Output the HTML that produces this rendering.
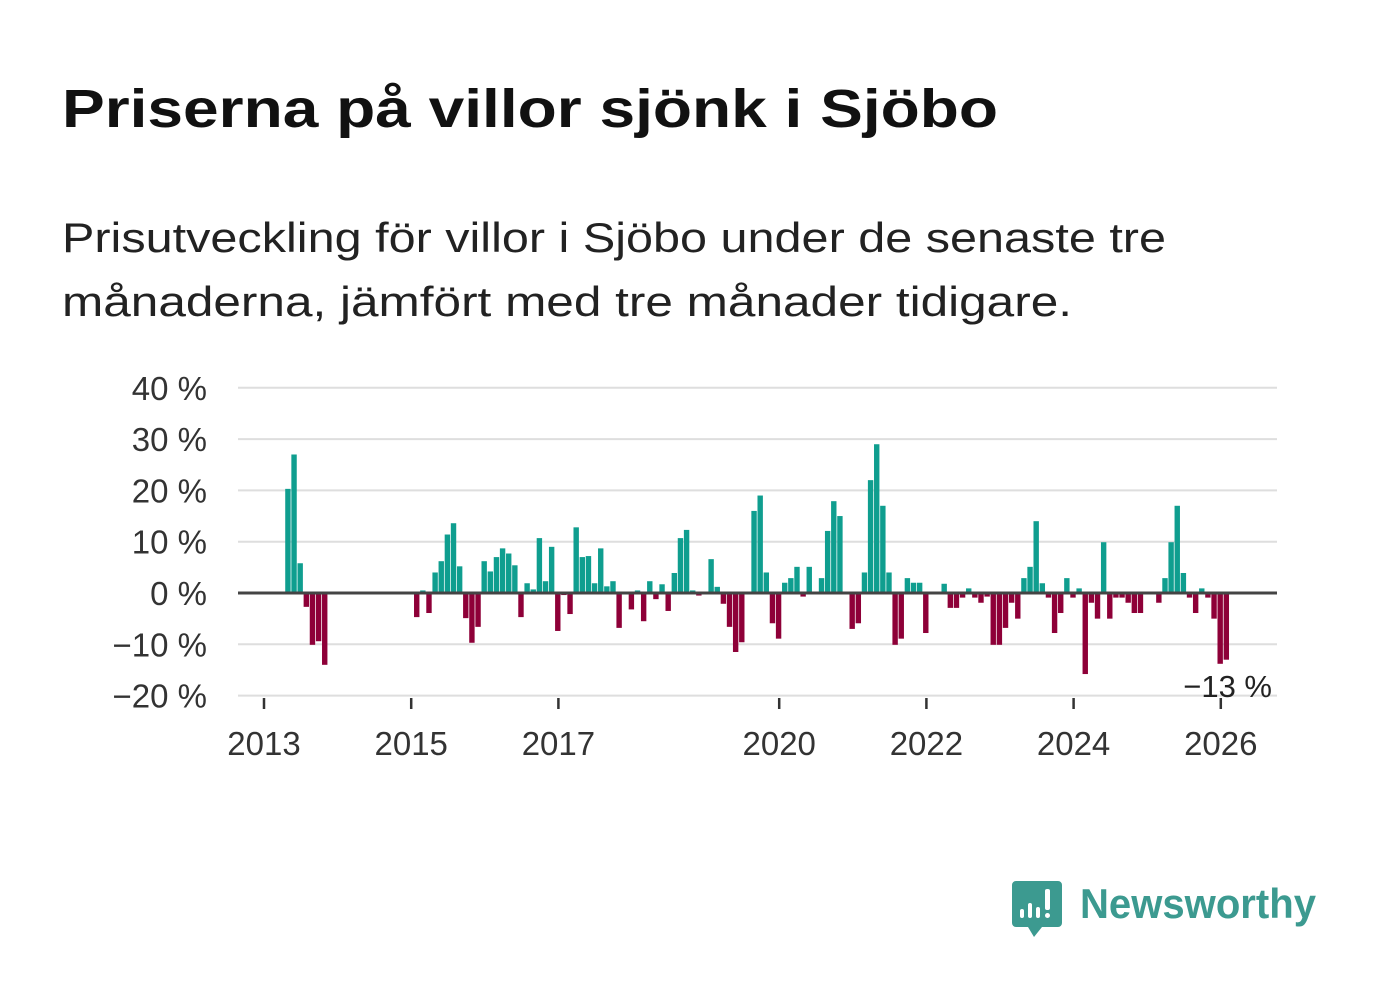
<!DOCTYPE html>
<html><head><meta charset="utf-8"><style>
html,body{margin:0;padding:0;background:#fff;}
svg{display:block;font-family:"Liberation Sans","DejaVu Sans",sans-serif;}
</style></head><body>
<svg id="chart" width="1382" height="999" viewBox="0 0 1382 999">
<text x="62" y="127" font-size="54" font-weight="bold" fill="#111" textLength="936" lengthAdjust="spacingAndGlyphs">Priserna på villor sjönk i Sjöbo</text>
<text x="62" y="252" font-size="42" fill="#222" textLength="1104" lengthAdjust="spacingAndGlyphs">Prisutveckling för villor i Sjöbo under de senaste tre</text>
<text x="62" y="316" font-size="42" fill="#222" textLength="1010" lengthAdjust="spacingAndGlyphs">månaderna, jämfört med tre månader tidigare.</text>
<g id="grid"></g>
<g id="bars"></g>
<g id="axes"></g>
<g>
<path d="M1016 881 h42 a4 4 0 0 1 4 4 v38 a4 4 0 0 1 -4 4 h-16 l-8 10 l-6 -10 h-12 a4 4 0 0 1 -4 -4 v-38 a4 4 0 0 1 4 -4z" fill="#3c9a90"/>
<rect x="1020" y="909" width="4" height="9" rx="2" fill="#fff"/>
<rect x="1028" y="903" width="4" height="15" rx="2" fill="#fff"/>
<rect x="1036" y="907" width="4" height="11" rx="2" fill="#fff"/>
<rect x="1045" y="889" width="5" height="21" rx="2" fill="#fff"/>
<circle cx="1047.5" cy="915.5" r="2.5" fill="#fff"/>
<text x="1080" y="918" font-size="42" font-weight="bold" fill="#3c9a90" textLength="236" lengthAdjust="spacingAndGlyphs">Newsworthy</text>
</g>
</svg>
<script>
const startYear = 2013;
const startMonthOffset = 3.9;
const values = [20.3,27,5.8,-2.7,-10.1,-9.4,-14,null,null,null,null,null,null,null,null,null,null,null,null,null,null,
-4.7,0.5,-3.9,4,6.2,11.4,13.6,5.2,-4.9,-9.7,-6.6,6.2,4.2,7,8.7,7.7,5.4,-4.7,1.9,0.7,10.7,2.3,9,-7.4,-0.4,-4.1,12.8,7,7.2,1.9,8.7,1.3,2.3,-6.8,null,
-3.2,0.5,-5.5,2.3,-1.2,1.7,-3.5,3.9,10.7,12.3,0.5,-0.5,null,6.6,1.2,-2.1,-6.6,-11.5,-9.6,null,16,19,4,-5.9,-8.9,2,2.9,5.1,-0.7,5.1,null,
2.9,12.1,17.9,15,null,-7,-5.9,4,22,29,17,4,-10.1,-8.9,2.9,2,2,-7.8,null,null,1.8,-2.9,-2.9,-0.9,0.9,-0.9,-1.9,-0.7,-10.1,-10.1,-6.8,-1.9,-5,
2.9,5.1,14,1.9,-0.9,-7.8,-3.9,2.9,-0.9,0.9,-15.8,-1.9,-5,9.9,-5,-0.9,-0.9,-1.9,-3.9,-3.9,null,null,-1.9,2.9,9.9,17,3.9,-0.9,-3.9,0.9,-0.9,-5,-13.8,-13];
const yTicks = [40,30,20,10,0,-10,-20];
const yTickLabels = ["40 %","30 %","20 %","10 %","0 %","−10 %","−20 %"];
const xTicks = [2013,2015,2017,2020,2022,2024,2026];
const lastLabel = "−13 %";

const NS="http://www.w3.org/2000/svg";
const xScale = y => 264 + (y-2013)*73.6;
const yScale = v => 593 - v*5.13;
function mk(tag, attrs, parent){const e=document.createElementNS(NS,tag);for(const k in attrs)e.setAttribute(k,attrs[k]);parent.appendChild(e);return e;}
const grid=document.getElementById('grid'), bars=document.getElementById('bars'), axes=document.getElementById('axes');
yTicks.forEach((t,i)=>{
  if(t!==0){const l=mk('line',{x1:238,x2:1277,y1:yScale(t),y2:yScale(t),stroke:'#dedede','stroke-width':2},grid);
  
  }
  const tx=mk('text',{x:207,y:yScale(t)+12,'font-size':33,fill:'#333','text-anchor':'end'},axes);
  tx.textContent=yTickLabels[i];
  
  
});
values.forEach((v,i)=>{
  if(v===null)return;
  const xc=xScale(startYear+(startMonthOffset+i)/12);
  const y0=yScale(0), y1=yScale(v);
  const r=mk('rect',{x:xc-2.7,width:5.4,y:Math.min(y0,y1),height:Math.abs(y1-y0),fill:v>=0?'#0f9e8f':'#8e0038'},bars);
  
  
});
const zl=mk('line',{x1:238,x2:1277,y1:yScale(0),y2:yScale(0),stroke:'#444','stroke-width':3},axes);


xTicks.forEach(y=>{
  const x=xScale(y);
  const tk=mk('line',{x1:x,x2:x,y1:698,y2:709,stroke:'#333','stroke-width':2.5},axes);
  
  
  const tx=mk('text',{x:x,y:755,'font-size':33,fill:'#333','text-anchor':'middle'},axes);
  tx.textContent=String(y);
  
  
});
const lbl=mk('text',{x:1272,y:697,'font-size':31,fill:'#222','text-anchor':'end'},axes);
lbl.textContent=lastLabel;


</script>
</body></html>
